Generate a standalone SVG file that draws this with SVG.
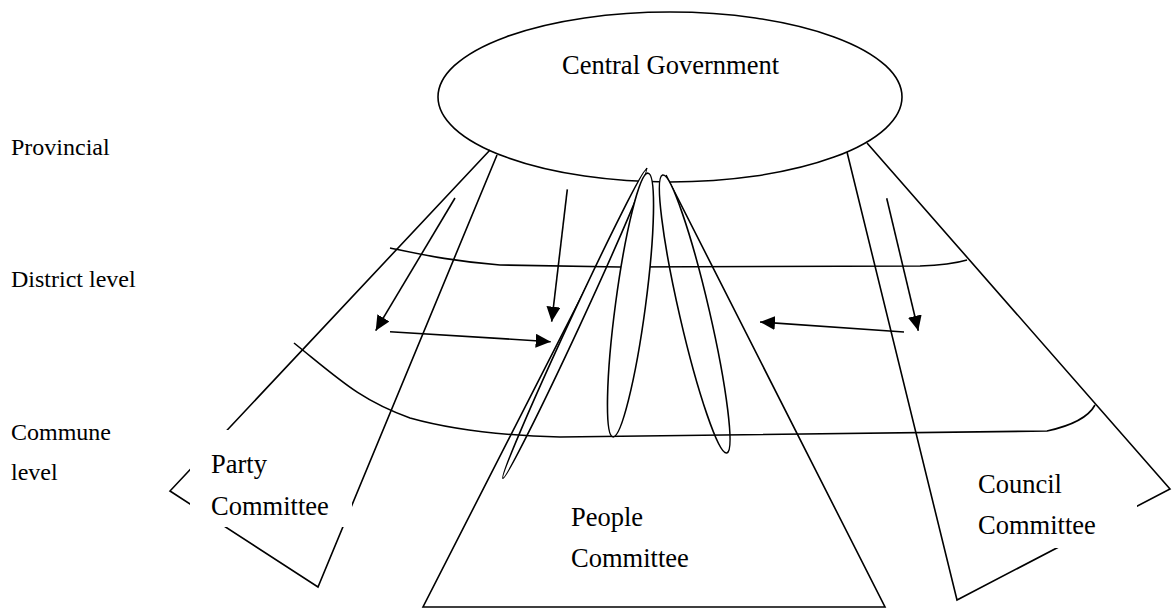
<svg xmlns="http://www.w3.org/2000/svg" width="1174" height="612" viewBox="0 0 1174 612">
  <style>
    .ln { fill: none; stroke: #000; stroke-width: 1.6; stroke-linejoin: miter; }
    .wf { fill: #fff; stroke: #000; stroke-width: 1.6; }
    .box { fill: #fff; stroke: none; }
    .lbl { font-family: "Liberation Serif", "Times New Roman", serif; font-size: 24px; fill: #000; }
    .node { font-family: "Liberation Serif", "Times New Roman", serif; font-size: 26.5px; fill: #000; }
    .arr { fill: none; stroke: #000; stroke-width: 1.6; marker-end: url(#head); }
  </style>
  <defs>
    <marker id="head" markerUnits="userSpaceOnUse" markerWidth="16" markerHeight="15" refX="15" refY="7" orient="auto">
      <path d="M0,0 L15,7 L0,14 z" fill="#000"/>
    </marker>
  </defs>
  <rect width="1174" height="612" fill="#fff"/>

  <!-- level labels on the left -->
  <g id="levels" font-family="Liberation Serif, serif">
    <text class="lbl" x="11" y="155">Provincial</text>
    <text class="lbl" x="11" y="287">District level</text>
    <text class="lbl" x="11" y="440">Commune</text>
    <text class="lbl" x="11" y="480">level</text>
  </g>

  <!-- central government -->
  <g id="central">
    <ellipse class="ln" cx="670" cy="97" rx="232" ry="85"/>
    <text class="node" x="562" y="74">Central Government</text>
  </g>

  <!-- party committee wedge -->
  <g id="party">
    <polyline class="ln" points="490,150 170,491 318,587 497,155"/>
    <rect class="box" x="190" y="430" width="162" height="97"/>
    <text class="node" x="211" y="473">Party</text>
    <text class="node" x="211" y="515">Committee</text>
  </g>

  <!-- council committee wedge -->
  <g id="council">
    <polyline class="ln" points="867,143 1170,489 957,600 847,152"/>
    <rect class="box" x="968" y="458" width="169" height="90"/>
    <text class="node" x="978" y="493">Council</text>
    <text class="node" x="978" y="534">Committee</text>
  </g>

  <!-- people committee triangle -->
  <g id="people">
    <polyline class="ln" points="647,168 423,607 885,607 666,175"/>
    <text class="node" x="571" y="526">People</text>
    <text class="node" x="571" y="567">Committee</text>
  </g>

  <!-- thin linking loops -->
  <g id="loops-back">
    <ellipse class="wf" cx="694.7" cy="314" rx="15" ry="142.6" transform="rotate(-13 694.7 314)"/>
    <ellipse class="wf" cx="574.5" cy="324" rx="5.5" ry="170" transform="rotate(24.9 574.5 324)"/>
  </g>

  <!-- level boundaries -->
  <g id="boundaries">
    <path class="ln" d="M390,248 C420,254 450,261 500,265 L620,267 L920,266 Q950,265 967,260"/>
    <path class="ln" d="M294,343 C340,380 360,400 410,418 C460,432 520,436 560,437 L1047,431 C1070,426 1088,418 1095,405"/>
  </g>

  <g id="loop-front">
    <ellipse class="wf" cx="630.5" cy="305" rx="15" ry="133" transform="rotate(7.6 630.5 305)"/>
  </g>

  <!-- connectors -->
  <g id="connectors">
    <line class="arr" x1="455" y1="198" x2="375.7" y2="330.7"/>
    <line class="arr" x1="567.3" y1="189.3" x2="551.7" y2="321.7"/>
    <line class="arr" x1="390" y1="331.7" x2="550.7" y2="341.7"/>
    <line class="arr" x1="904" y1="332" x2="760" y2="322"/>
    <line class="arr" x1="886.7" y1="198.3" x2="918.3" y2="330.7"/>
  </g>
</svg>
